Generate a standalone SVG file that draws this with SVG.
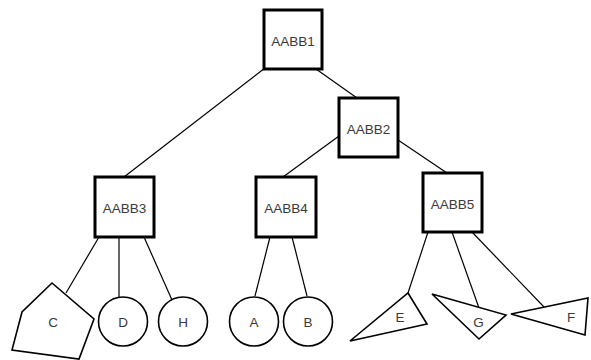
<svg xmlns="http://www.w3.org/2000/svg" width="591" height="360" viewBox="0 0 591 360">
<style>
.box{fill:#fff;stroke:#000;stroke-width:3}
.shape{fill:#fff;stroke:#000;stroke-width:1.6}
.edge{stroke:#000;stroke-width:1.2;fill:none}
text{font-family:"Liberation Sans",Arial,sans-serif;font-size:13.5px;fill:#3a3a3a;text-anchor:middle}
</style>
<rect width="591" height="360" fill="#fff"/>
<g id="connectors">
<line class="edge" x1="265" y1="68" x2="124" y2="177"/>
<line class="edge" x1="316" y1="69" x2="357" y2="98"/>
<line class="edge" x1="339" y1="136" x2="283" y2="177"/>
<line class="edge" x1="398" y1="140" x2="447" y2="173"/>
<line class="edge" x1="99" y1="237" x2="66" y2="293"/>
<line class="edge" x1="119" y1="237" x2="119" y2="297"/>
<line class="edge" x1="144" y1="237" x2="172" y2="300"/>
<line class="edge" x1="270" y1="237" x2="255" y2="296"/>
<line class="edge" x1="292" y1="237" x2="307" y2="296"/>
<line class="edge" x1="428" y1="232" x2="408" y2="293"/>
<line class="edge" x1="452" y1="232" x2="479" y2="308"/>
<line class="edge" x1="472" y1="232" x2="544" y2="307"/>
</g>
<g id="AABB1"><rect class="box" x="264" y="10" width="58" height="59"/><text x="293" y="46">AABB1</text></g>
<g id="AABB2"><rect class="box" x="339" y="98" width="59" height="59"/><text x="368.5" y="134">AABB2</text></g>
<g id="AABB3"><rect class="box" x="95" y="177" width="59" height="60"/><text x="124.5" y="213">AABB3</text></g>
<g id="AABB4"><rect class="box" x="256" y="177" width="60" height="60"/><text x="286" y="213">AABB4</text></g>
<g id="AABB5"><rect class="box" x="423" y="173" width="59" height="59"/><text x="452.5" y="209">AABB5</text></g>
<g id="C"><polygon class="shape" points="52,283 94,319 79,359 12,350 22,312"/><text x="53" y="327">C</text></g>
<g id="D"><circle class="shape" cx="123" cy="321.5" r="24.5"/><text x="123" y="326.5">D</text></g>
<g id="H"><circle class="shape" cx="183" cy="321.5" r="24.5"/><text x="183" y="326.5">H</text></g>
<g id="A"><circle class="shape" cx="254" cy="321.5" r="24.5"/><text x="254" y="326.5">A</text></g>
<g id="B"><circle class="shape" cx="308" cy="321.5" r="24.5"/><text x="308" y="326.5">B</text></g>
<g id="E"><polygon class="shape" points="408,293 427,324 350,341"/><text x="400" y="321.5">E</text></g>
<g id="G"><polygon class="shape" points="432,294 506,315 479,339"/><text x="478.5" y="326.5">G</text></g>
<g id="F"><polygon class="shape" points="511,314 588,298 585,335"/><text x="571" y="321.5">F</text></g>
</svg>
